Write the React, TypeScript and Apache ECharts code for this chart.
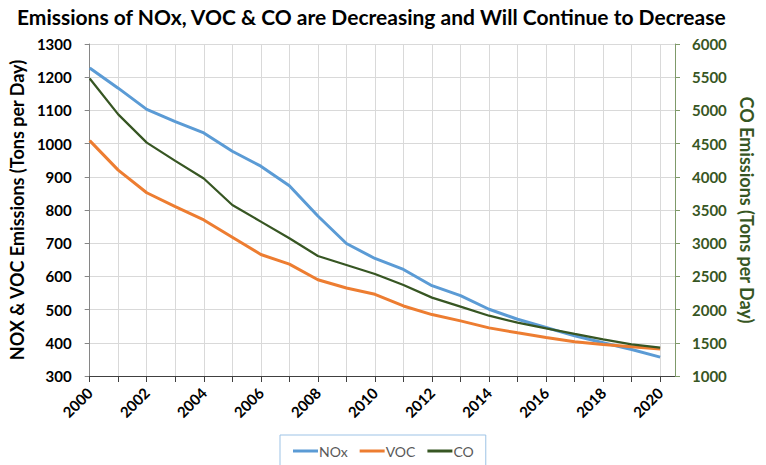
import React, { useEffect, useRef } from "react";
import * as echarts from "echarts";

const years = [2000, 2001, 2002, 2003, 2004, 2005, 2006, 2007, 2008, 2009, 2010, 2011, 2012, 2013, 2014, 2015, 2016, 2017, 2018, 2019, 2020];
const noxValues = [1228, 1167, 1103, 1066, 1032, 977, 932, 873, 782, 699, 654, 621, 572, 542, 501, 471, 446, 421, 400, 380, 357];
const vocValues = [1009, 920, 852, 810, 770, 718, 666, 637, 590, 565, 546, 511, 485, 466, 445, 430, 416, 403, 395, 388, 381];
const coValues = [5480, 4940, 4515, 4240, 3975, 3575, 3325, 3075, 2807, 2672, 2536, 2370, 2180, 2044, 1908, 1803, 1718, 1633, 1553, 1477, 1427];

const seriesNames = ["NOx", "VOC", "CO"];
const colors = ["#5B9BD5", "#ED7D31", "#375623"];
const titleText = "Emissions of NOx, VOC & CO are Decreasing and Will Continue to Decrease";
const leftAxisName = "NOX & VOC Emissions (Tons per Day)";
const rightAxisName = "CO Emissions (Tons per Day)";

export default function App() {
  const ref = useRef<HTMLDivElement>(null);
  useEffect(() => {
    if (!ref.current) return;
    const chart = echarts.init(ref.current, null, { renderer: "svg" });
    const font = "Lato, 'Noto Sans', sans-serif";
    const toPairs = (vals: number[]) => years.map((y, i) => [y, vals[i]]);
    chart.setOption({
      animation: false,
      textStyle: { fontFamily: font },
      title: {
        text: titleText,
        left: 12,
        top: 1,
        textStyle: { fontSize: 21, fontWeight: "bold", color: "#000", fontFamily: font },
      },
      legend: {
        data: seriesNames,
        left: 280,
        top: 435,
        borderColor: "#9DC3E6",
        borderWidth: 1,
        padding: [9, 12, 10, 13],
        itemWidth: 25,
        itemHeight: 3,
        itemGap: 12,
        icon: "rect",
        textStyle: { color: "#595959", fontSize: 14, fontFamily: font, padding: [0, 0, 0, -4] },
      },
      grid: { left: 84, right: 91, top: 44, bottom: 89 },
      xAxis: {
        type: "value",
        min: 2000,
        max: 2020.52,
        interval: 1,
        axisLine: { show: true, lineStyle: { color: "#404040", width: 1 } },
        axisTick: { show: true, length: 6, lineStyle: { color: "#404040" } },
        splitLine: { show: true, lineStyle: { color: "#D9D9D9", width: 1 } },
        axisLabel: {
          rotate: 45,
          fontSize: 15,
          fontWeight: "bold",
          color: "#000",
          margin: 14,
          showMaxLabel: false,
          formatter: (v: number) => (Number.isInteger(v) && v % 2 === 0 ? String(v) : ""),
        },
      },
      yAxis: [
        {
          type: "value",
          min: 300,
          max: 1300,
          interval: 100,
          position: "left",
          name: leftAxisName,
          nameLocation: "middle",
          nameGap: 57,
          nameTextStyle: { fontSize: 18, fontWeight: "bold", color: "#000", fontFamily: font },
          axisLine: { show: true, lineStyle: { color: "#868686" } },
          axisTick: { show: true, length: 5, lineStyle: { color: "#868686" } },
          splitLine: { show: true, lineStyle: { color: "#D9D9D9" } },
          axisLabel: { fontSize: 15, fontWeight: "bold", color: "#000", margin: 18, formatter: (v: number) => String(v) },
        },
        {
          type: "value",
          min: 1000,
          max: 6000,
          interval: 500,
          position: "right",
          name: rightAxisName,
          nameLocation: "middle",
          nameGap: 60,
          nameRotate: -90,
          nameTextStyle: { fontSize: 18, fontWeight: "bold", color: "#375623", fontFamily: font },
          axisLine: { show: true, lineStyle: { color: "#7F9A6A" } },
          axisTick: { show: true, length: 5, lineStyle: { color: "#7F9A6A" } },
          splitLine: { show: false },
          axisLabel: { fontSize: 15, fontWeight: "bold", color: "#375623", margin: 17, formatter: (v: number) => String(v) },
        },
      ],
      series: [
        {
          name: seriesNames[0],
          type: "line",
          yAxisIndex: 0,
          data: toPairs(noxValues),
          symbol: "none",
          lineStyle: { width: 3, color: colors[0] },
          itemStyle: { color: colors[0] },
          z: 3,
        },
        {
          name: seriesNames[1],
          type: "line",
          yAxisIndex: 0,
          data: toPairs(vocValues),
          symbol: "none",
          lineStyle: { width: 3, color: colors[1] },
          itemStyle: { color: colors[1] },
          z: 3,
        },
        {
          name: seriesNames[2],
          type: "line",
          yAxisIndex: 1,
          data: toPairs(coValues),
          symbol: "none",
          lineStyle: { width: 2.25, color: colors[2] },
          itemStyle: { color: colors[2] },
          z: 4,
        },
      ],
    });
    return () => chart.dispose();
  }, []);
  return <div ref={ref} style={{ width: 766, height: 465, position: "absolute", left: 0, top: 0, background: "#fff" }} />;
}
